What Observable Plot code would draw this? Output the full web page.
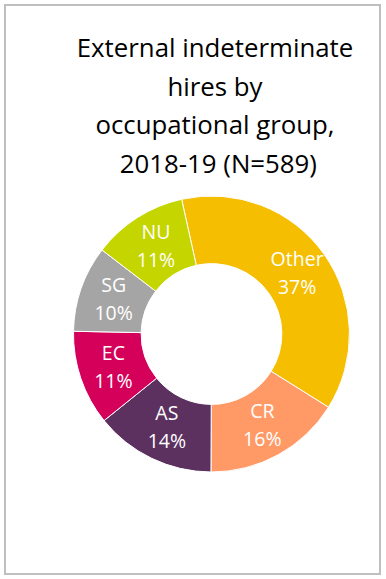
<!DOCTYPE html>
<html>
<head>
<meta charset="utf-8">
<script src="https://cdn.jsdelivr.net/npm/d3@7"></script>
<script src="https://cdn.jsdelivr.net/npm/@observablehq/plot@0.6"></script>
<style>
  html, body { margin: 0; padding: 0; background: #fff; overflow: hidden; }
  body { width: 386px; height: 579px; position: relative; font-family: "Open Sans", "Noto Sans", sans-serif; }
  #frame { position: absolute; left: 4px; top: 4px; width: 373px; height: 567px; border: 2px solid #bfbfbf; }
  #title { position: absolute; left: 44px; width: 342px; top: 28px; text-align: center; font-size: 25.8px; line-height: 38.5px; color: #000; }
  #chart { position: absolute; left: 0; top: 184px; }
</style>
</head>
<body>
<div id="frame"></div>
<div id="title">External indeterminate<br>hires by<br>occupational group,<br>&nbsp;2018-19 (N=589)</div>
<div id="chart"></div>
<script>
const groups = ["Other", "CR", "AS", "EC", "SG", "NU"];
const shares = [37, 16, 14, 11, 10, 11];
const colors = ["#f5be00", "#ff9966", "#5c3160", "#d5005a", "#a5a5a5", "#c5d500"];

const data = groups.map((g, i) => ({group: g, value: shares[i]}));
const innerRatio = 0.51;
const start = -12.5 * Math.PI / 180;
const pie = d3.pie().sort(null).value(d => d.value).startAngle(start).endAngle(start + 2 * Math.PI);
const arcs = pie(data);

// label positions in data space (outer radius = 1)
const mid = (1 + innerRatio) / 2;
const labels = arcs.map(a => {
  const ang = (a.startAngle + a.endAngle) / 2;
  return {x: mid * Math.sin(ang), y: mid * Math.cos(ang), text: `${a.data.group}\n${a.data.value}%`};
});

const R = 138, cx = 211.5, cy = 150;

function donut(index, scales) {
  const x = scales.x, y = scales.y;
  const ox = x(0), oy = y(0);
  const r = x(1) - x(0);
  const arc = d3.arc().innerRadius(r * innerRatio).outerRadius(r);
  const g = d3.create("svg:g").attr("transform", `translate(${ox},${oy})`);
  g.selectAll("path").data(arcs).join("path")
    .attr("d", arc)
    .attr("fill", (d, i) => colors[i])
    .attr("stroke", "#fff")
    .attr("stroke-width", 1);
  return g.node();
}

const chart = Plot.plot({
  width: 386,
  height: 300,
  margin: 0,
  x: {domain: [-1, 1], range: [cx - R, cx + R], axis: null},
  y: {domain: [-1, 1], range: [cy + R, cy - R], axis: null},
  style: {fontFamily: "'Open Sans', 'Noto Sans', sans-serif", background: "transparent"},
  marks: [
    donut,
    Plot.text(labels, {x: "x", y: "y", text: "text", fill: "#fff", fontSize: 19.5, lineHeight: 1.44, dy: -3, textAnchor: "middle"})
  ]
});
document.getElementById("chart").appendChild(chart);
</script>
</body>
</html>
